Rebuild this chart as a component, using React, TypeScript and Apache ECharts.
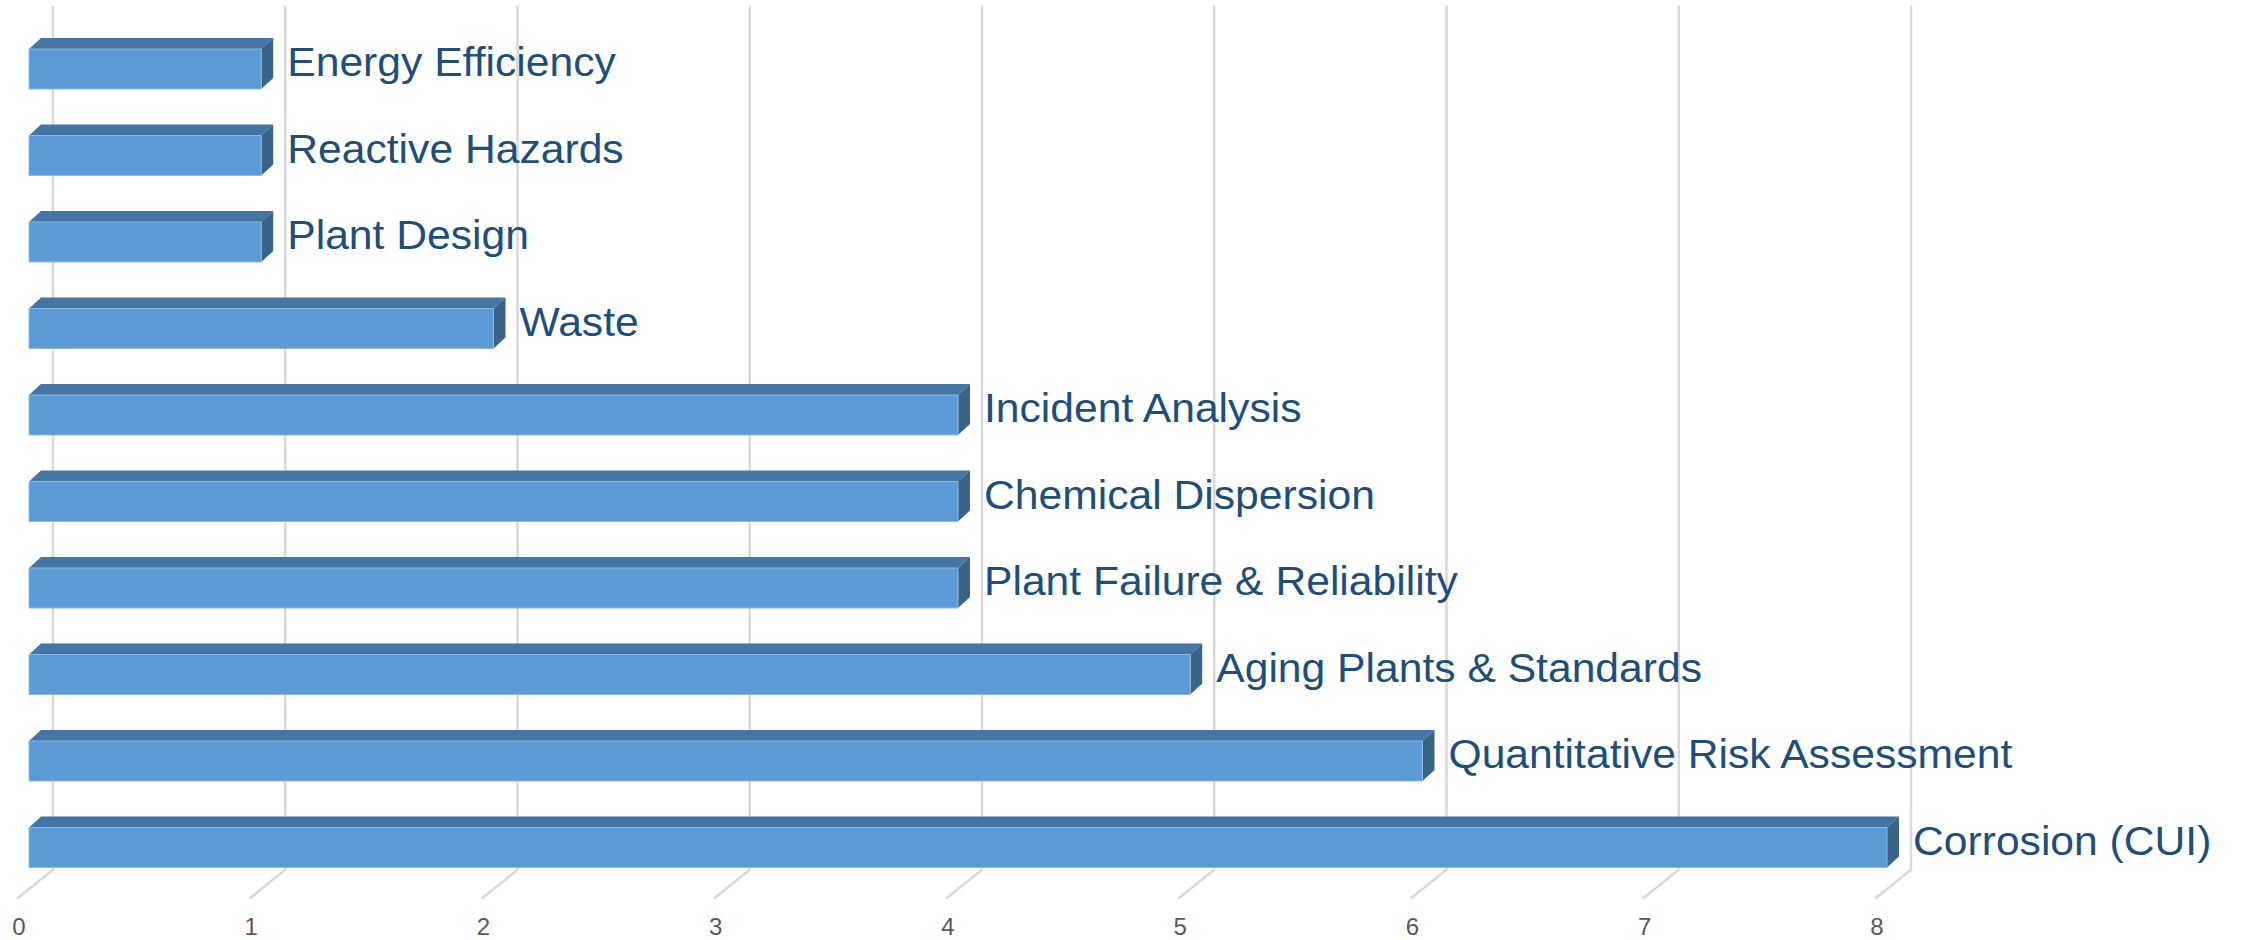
import React, { useEffect, useRef } from "react";
import * as echarts from "echarts";

const categories = [
  "Energy Efficiency",
  "Reactive Hazards",
  "Plant Design",
  "Waste",
  "Incident Analysis",
  "Chemical Dispersion",
  "Plant Failure & Reliability",
  "Aging Plants & Standards",
  "Quantitative Risk Assessment",
  "Corrosion (CUI)",
];
const values = [1, 1, 1, 2, 4, 4, 4, 5, 6, 8];
const ticks = [0, 1, 2, 3, 4, 5, 6, 7, 8];

const FONT = "'Liberation Sans', Arial, sans-serif";

export default function App() {
  const ref = useRef<HTMLDivElement>(null);
  useEffect(() => {
    if (!ref.current) return;
    const chart = echarts.init(ref.current, null, { renderer: "svg" });
    const BAR_H = 40;
    const DX = 12;
    const DY = 11;
    const option = {
      animation: false,
      backgroundColor: "#ffffff",
      grid: { left: 29, right: 354, top: 25.75, bottom: 49.25, containLabel: false },
      xAxis: {
        type: "value",
        min: 0,
        max: 8,
        interval: 1,
        splitLine: { show: false },
        axisLine: { show: false },
        axisTick: { show: false },
        axisLabel: {
          color: "#595959",
          fontSize: 24,
          fontFamily: FONT,
          margin: 24,
          padding: [0, 20, 0, 0],
        },
      },
      yAxis: {
        type: "category",
        data: categories,
        inverse: true,
        show: false,
      },
      series: [
        {
          type: "custom",
          z: 1,
          silent: true,
          data: ticks.map((t) => [t, 0]),
          encode: { x: 0, y: 1 },
          renderItem: (params: any, api: any) => {
            const v = api.value(0);
            const p = api.coord([v, 0]);
            const cs = params.coordSys;
            const xb = p[0] + 24;
            const yFloor = cs.y + cs.height - 21;
            return {
              type: "polyline",
              shape: {
                points: [
                  [xb, cs.y - 20],
                  [xb, yFloor],
                  [xb - 36, yFloor + 29],
                ],
              },
              style: { stroke: "#D9D9D9", lineWidth: 2.5, fill: null },
            };
          },
        },
        {
          type: "custom",
          z: 2,
          data: values.map((v, i) => [v, i]),
          encode: { x: 0, y: 1 },
          renderItem: (params: any, api: any) => {
            const val = api.value(0);
            const idx = api.value(1);
            const pR = api.coord([val, idx]);
            const pL = api.coord([0, idx]);
            const yc = pR[1];
            const x0 = pL[0];
            const x1 = pR[0];
            const yT = yc - BAR_H / 2;
            const yB = yc + BAR_H / 2;
            return {
              type: "group",
              children: [
                {
                  type: "polygon",
                  shape: {
                    points: [
                      [x0, yT],
                      [x0 + DX, yT - DY],
                      [x1 + DX, yT - DY],
                      [x1, yT],
                    ],
                  },
                  style: { fill: "#4575A2" },
                },
                {
                  type: "polygon",
                  shape: {
                    points: [
                      [x1, yT],
                      [x1 + DX, yT - DY],
                      [x1 + DX, yB - DY],
                      [x1, yB],
                    ],
                  },
                  style: { fill: "#3A6389" },
                },
                {
                  type: "rect",
                  shape: { x: x0, y: yT, width: x1 - x0, height: BAR_H },
                  style: { fill: "#5B9BD5", stroke: "#8DB8E2", lineWidth: 1 },
                },
                {
                  type: "text",
                  x: x1 + 26,
                  y: yc - 7,
                  scaleX: 1.04,
                  style: {
                    text: categories[idx],
                    x: 0,
                    y: 0,
                    fill: "#1F4E79",
                    fontSize: 41,
                    fontFamily: FONT,
                    align: "left",
                    verticalAlign: "middle",
                  },
                },
              ],
            };
          },
        },
      ],
    };
    chart.setOption(option as any);
    return () => chart.dispose();
  }, []);
  return (
    <div
      ref={ref}
      style={{ position: "fixed", left: 0, top: 0, width: 2241, height: 940 }}
    />
  );
}
